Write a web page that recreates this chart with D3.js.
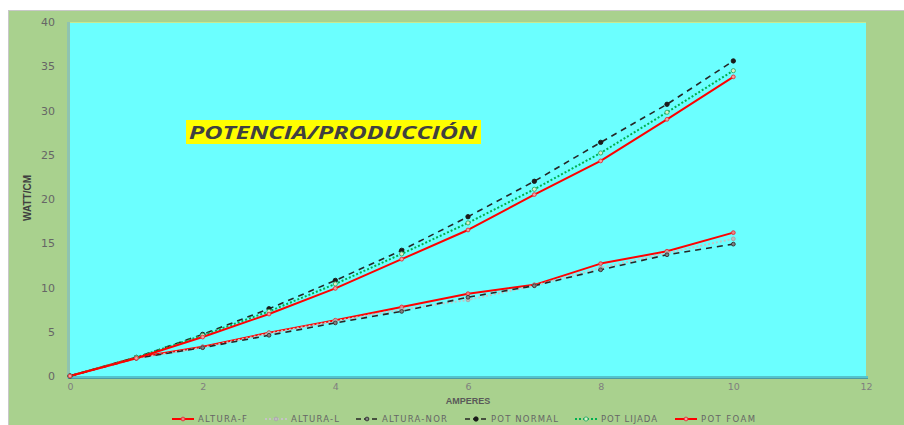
<!DOCTYPE html>
<html>
<head>
<meta charset="utf-8">
<script src="https://cdn.jsdelivr.net/npm/d3@7"></script>
<style>
  html, body { margin: 0; padding: 0; background: #ffffff; }
  svg { display: block; }
</style>
</head>
<body>
<svg id="chart" width="904" height="425"></svg>
<script>
// ---- data ----
const amperes = [0, 1, 2, 3, 4, 5, 6, 7, 8, 9, 10];
const alturaF   = [0, 2.1, 3.3, 4.9, 6.3, 7.8, 9.3, 10.3, 12.7, 14.1, 16.2];
const alturaL   = [0, 2.0, 3.2, 4.8, 6.2, 7.5, 8.6, 10.2, 12.2, 13.9, 15.5];
const alturaNor = [0, 2.0, 3.2, 4.6, 6.0, 7.3, 8.9, 10.2, 12.0, 13.7, 14.9];
const potNormal = [0, 2.1, 4.7, 7.6, 10.8, 14.2, 18.0, 22.0, 26.4, 30.7, 35.6];
const potLijada = [0, 2.1, 4.6, 7.3, 10.4, 13.8, 17.3, 21.1, 25.2, 29.8, 34.5];
const potFoam   = [0, 2.0, 4.4, 7.0, 9.9, 13.2, 16.5, 20.5, 24.3, 29.0, 33.8];
const seriesNames = ["ALTURA-F", "ALTURA-L", "ALTURA-NOR", "POT NORMAL", "POT LIJADA", "POT FOAM"];
const xTicks = [0, 2, 4, 6, 8, 10, 12];
const yTicks = [0, 5, 10, 15, 20, 25, 30, 35, 40];
const titleText = "POTENCIA/PRODUCCIÓN";
const xTitle = "AMPERES";
const yTitle = "WATT/CM";

// ---- styles ----
const styles = [
  { vals: alturaF,   stroke: "#FF0000", width: 2,   dash: null,  mStroke: "#E0303A", mFill: "#F08080", r: 1.9 },
  { vals: alturaL,   stroke: "#C4C4C4", width: 2,   dash: "2,2", mStroke: "#A6A6A6", mFill: "#BFBFBF", r: 1.9 },
  { vals: alturaNor, stroke: "#262626", width: 1.6, dash: "6,5", mStroke: "#333333", mFill: "#808080", r: 1.9 },
  { vals: potNormal, stroke: "#262626", width: 1.6, dash: "6,5", mStroke: "#1A1A1A", mFill: "#1A1A1A", r: 2.2 },
  { vals: potLijada, stroke: "#00B050", width: 2,   dash: "2,2", mStroke: "#2EAA6A", mFill: "#D8F0C8", r: 2.1 },
  { vals: potFoam,   stroke: "#FF0000", width: 2,   dash: null,  mStroke: "#E0303A", mFill: "#F4A0A0", r: 1.9 }
];

const svg = d3.select("#chart");

// chart background
svg.append("rect").attr("x", 8.5).attr("y", 10.5).attr("width", 905).attr("height", 420)
  .attr("fill", "#A9D18E").attr("stroke", "#C8C8C8").attr("stroke-width", 1);

const x = d3.scaleLinear().domain([0, 12]).range([70, 866]);
const y = d3.scaleLinear().domain([0, 40]).range([376, 22]);

// plot area with 3D-ish wall/floor
svg.append("rect").attr("x", 67).attr("y", 22).attr("width", 3).attr("height", 357).attr("fill", "#8FC3B0");
svg.append("rect").attr("x", 68).attr("y", 376).attr("width", 800).attr("height", 2.5).attr("fill", "#55C4CC");
svg.append("rect").attr("x", 68).attr("y", 378).attr("width", 800).attr("height", 1).attr("fill", "#4A9AA4");
svg.append("rect").attr("x", 70).attr("y", 22).attr("width", 796).attr("height", 354).attr("fill", "#6BFFFF");
svg.append("line").attr("x1", 70).attr("x2", 866).attr("y1", 22.5).attr("y2", 22.5).attr("stroke", "#C8E890").attr("stroke-width", 1);

// axes
const yAxis = svg.append("g").attr("transform", "translate(70,0)")
  .call(d3.axisLeft(y).tickValues(yTicks).tickSize(0).tickPadding(15).tickFormat(d3.format("d")));
yAxis.select(".domain").remove();
yAxis.selectAll("text").attr("font-family", "DejaVu Sans, Verdana, sans-serif").attr("font-size", "11px").attr("fill", "#666666");

const xAxis = svg.append("g").attr("transform", "translate(0,378)")
  .call(d3.axisBottom(x).tickValues(xTicks).tickSize(0).tickPadding(5).tickFormat(d3.format("d")));
xAxis.select(".domain").remove();
xAxis.selectAll("text").attr("font-family", "DejaVu Sans, Verdana, sans-serif").attr("font-size", "9.5px").attr("fill", "#7F7F7F");

// axis titles
svg.append("text").attr("x", 468).attr("y", 404).attr("text-anchor", "middle")
  .attr("font-family", "Liberation Sans Narrow, Liberation Sans, Arial, sans-serif").attr("font-weight", "bold")
  .attr("font-size", "9px").attr("fill", "#595959").text(xTitle);
svg.append("text").attr("transform", "translate(31,198) rotate(-90)").attr("text-anchor", "middle")
  .attr("font-family", "Liberation Sans Narrow, Liberation Sans, Arial, sans-serif").attr("font-weight", "bold")
  .attr("font-size", "10px").attr("fill", "#404040").text(yTitle);

// series
const line = d3.line().x((d, i) => x(amperes[i])).y(d => y(d));
styles.forEach(s => {
  svg.append("path").datum(s.vals).attr("d", line).attr("fill", "none")
    .attr("stroke", s.stroke).attr("stroke-width", s.width)
    .attr("stroke-dasharray", s.dash).attr("stroke-linejoin", "round");
});
styles.forEach(s => {
  svg.append("g").selectAll("circle").data(s.vals).join("circle")
    .attr("cx", (d, i) => x(amperes[i])).attr("cy", d => y(d)).attr("r", s.r)
    .attr("fill", s.mFill).attr("stroke", s.mStroke).attr("stroke-width", 0.9);
});

// title box
svg.append("rect").attr("x", 186).attr("y", 120).attr("width", 295).attr("height", 24).attr("fill", "#FFFF00");
svg.append("text").attr("x", 189).attr("y", 139)
  .attr("font-family", "Open Sans, DejaVu Sans, sans-serif").attr("font-weight", "bold").attr("font-style", "italic")
  .attr("font-size", "18.5px").attr("fill", "#404040")
  .attr("textLength", 288).attr("lengthAdjust", "spacingAndGlyphs").text(titleText);

// legend
const legendX = [172, 265, 356, 465, 575, 675];
const legendTextW = [49, 48, 65, 67, 56, 54];
const legendY = 419;
const lg = svg.append("g");
seriesNames.forEach((name, i) => {
  const s = styles[i];
  const g = lg.append("g").attr("transform", `translate(${legendX[i]},${legendY})`);
  g.append("line").attr("x1", 0).attr("x2", 22).attr("y1", 0).attr("y2", 0)
    .attr("stroke", s.stroke).attr("stroke-width", s.width).attr("stroke-dasharray", s.dash ? (s.dash === "6,5" ? "5,3" : s.dash) : null);
  g.append("circle").attr("cx", 11).attr("cy", 0).attr("r", s.r)
    .attr("fill", s.mFill).attr("stroke", s.mStroke).attr("stroke-width", 0.9);
  g.append("text").attr("x", 26).attr("y", 3)
    .attr("font-family", "DejaVu Sans, Verdana, sans-serif").attr("font-size", "8.5px").attr("fill", "#666666")
    .attr("textLength", legendTextW[i]).attr("lengthAdjust", "spacing")
    .text(name);
});
</script>
</body>
</html>
